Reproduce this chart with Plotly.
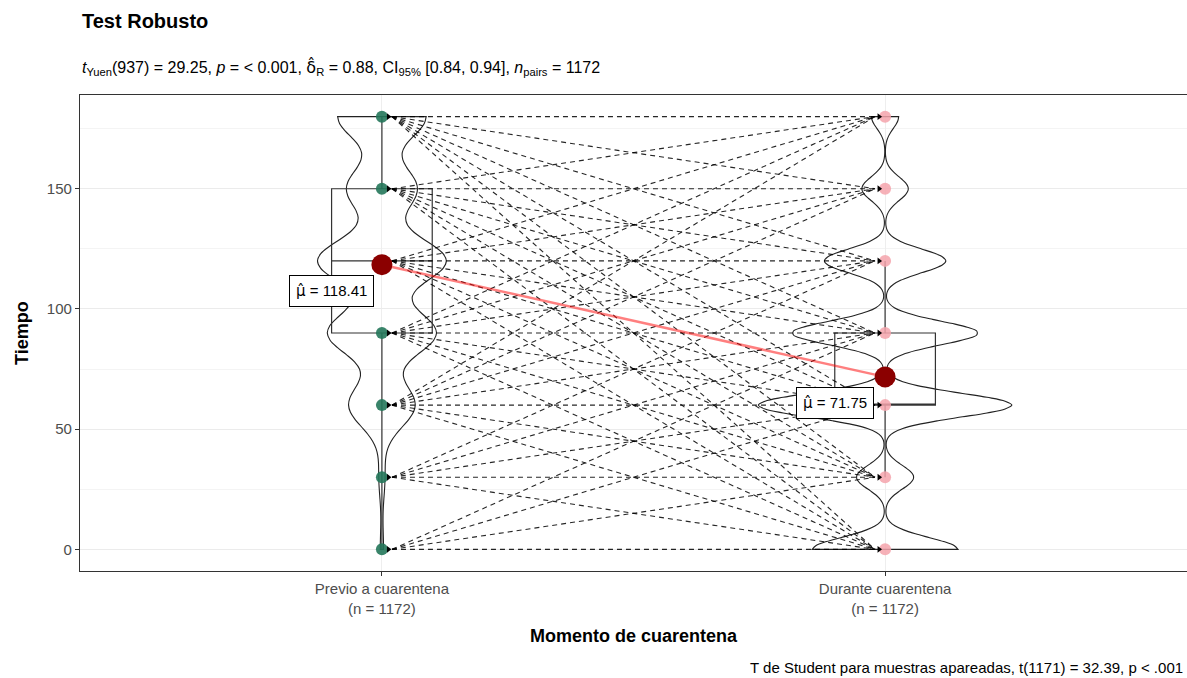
import numpy as np
import plotly.graph_objects as go

# ---------------- data ----------------
values = [0, 30, 60, 90, 120, 150, 180]
count_previo = [8, 15, 165, 270, 319, 175, 220]
count_durante = [204, 80, 355, 260, 170, 65, 38]
group_labels = ["Previo a cuarentena", "Durante cuarentena"]
y_ticks = [0, 50, 100, 150]

# observed pairs: value before quarantine -> values during quarantine
pair_targets = {
    0: [0, 30, 60, 90],
    30: [0, 30, 60, 90, 120],
    60: [0, 30, 60, 90, 120, 150, 180],
    90: [0, 30, 60, 90, 120, 150, 180],
    120: [0, 30, 60, 90, 120, 150, 180],
    150: [0, 30, 60, 90, 120, 150, 180],
    180: [0, 30, 60, 90, 120, 150, 180],
}

HAT_FONT = "font-family:'DejaVu Sans'"
title_text = "<b>Test Robusto</b>"
subtitle_text = ("<i>t</i><sub>Yuen</sub>(937) = 29.25, <i>p</i> = &lt; 0.001, "
                 f"<span style=\"{HAT_FONT}\">δ\u0302</span><sub>R</sub> = 0.88, "
                 "CI<sub>95%</sub> [0.84, 0.94], "
                 "<i>n</i><sub>pairs</sub> = 1172")
caption_text = "T de Student para muestras apareadas, t(1171) = 32.39, p &lt; .001"
x_title = "<b>Momento de cuarentena</b>"
y_title = "<b>Tiempo</b>"

# ---------------- derived ----------------
prev = np.repeat(values, count_previo).astype(float)
dur = np.repeat(values, count_durante).astype(float)
n_prev, n_dur = len(prev), len(dur)


def bw_nrd0(x):
    sd = np.std(x, ddof=1)
    iqr = np.percentile(x, 75) - np.percentile(x, 25)
    lo = min(sd, iqr / 1.34) if iqr > 0 else sd
    return 0.9 * lo * len(x) ** -0.2


bw_p, bw_d = bw_nrd0(prev), bw_nrd0(dur)
mean_p, mean_d = prev.mean(), dur.mean()

VIOLIN_W = {1: 0.256, 2: 0.504}

fig = go.Figure()

# boxplots
for xpos, data in [(1, prev), (2, dur)]:
    fig.add_trace(go.Box(
        x=np.full(len(data), xpos), y=data, width=0.2,
        fillcolor="rgba(0,0,0,0)", line=dict(color="#333333", width=1.2),
        boxpoints="outliers", marker=dict(size=0.1, opacity=0),
        whiskerwidth=0, hoverinfo="skip", showlegend=False))

# violins
for xpos, data, bw in [(1, prev, bw_p), (2, dur, bw_d)]:
    fig.add_trace(go.Violin(
        x=np.full(len(data), xpos), y=data, width=VIOLIN_W[xpos], bandwidth=bw,
        spanmode="hard", scalemode="width", scalegroup=f"g{xpos}",
        points=False, fillcolor="rgba(0,0,0,0)",
        line=dict(color="#222222", width=1.1), hoverinfo="skip",
        showlegend=False))

# paired dashed paths
px, py = [], []
for v1, targets in pair_targets.items():
    for v2 in targets:
        px += [1.02, 1.98, None]
        py += [v1, v2, None]
fig.add_trace(go.Scatter(x=px, y=py, mode="lines",
                         line=dict(color="rgba(0,0,0,0.85)", width=1.1, dash="5px,4px"),
                         hoverinfo="skip", showlegend=False))

# raw points
pv = [v for v, c in zip(values, count_previo) if c > 0]
dv = [v for v, c in zip(values, count_durante) if c > 0]
fig.add_trace(go.Scatter(x=[1] * len(pv), y=pv, mode="markers",
                         marker=dict(size=12, color="#24775a", opacity=0.9),
                         hoverinfo="skip", showlegend=False))
fig.add_trace(go.Scatter(x=[2] * len(dv), y=dv, mode="markers",
                         marker=dict(size=12, color="#f4a3ab", opacity=0.85),
                         hoverinfo="skip", showlegend=False))

# arrow heads at path ends
fig.add_trace(go.Scatter(x=[1.013] * len(pv) + [1.988] * len(dv), y=pv + dv, mode="markers",
                         marker=dict(size=6, color="black", symbol="triangle-right"),
                         hoverinfo="skip", showlegend=False))

# centrality path and points
fig.add_trace(go.Scatter(x=[1, 2], y=[mean_p, mean_d], mode="lines",
                         line=dict(color="rgba(255,0,0,0.5)", width=2.5),
                         hoverinfo="skip", showlegend=False))
fig.add_trace(go.Scatter(x=[1, 2], y=[mean_p, mean_d], mode="markers",
                         marker=dict(size=21, color="#8B0000"),
                         hoverinfo="skip", showlegend=False))

# mean labels
for xl, yl, m in [(0.899, 107.5, mean_p), (1.90, 60.8, mean_d)]:
    fig.add_annotation(x=xl, y=yl, xref="x", yref="y", showarrow=False,
                       text=f"<span style=\"{HAT_FONT}\">μ\u0302</span> = {m:.2f}",
                       font=dict(size=15, color="black"),
                       bgcolor="white", bordercolor="black", borderwidth=1, borderpad=6)

# titles
fig.add_annotation(x=0, y=1.1545, xref="paper", yref="paper", xanchor="left", yanchor="middle",
                   text=title_text, showarrow=False, font=dict(size=20, color="black"))
fig.add_annotation(x=0, y=1.058, xref="paper", yref="paper", xanchor="left", yanchor="middle",
                   text=subtitle_text, showarrow=False, font=dict(size=16, color="black"))
fig.add_annotation(x=1, y=-0.203, xref="paper", yref="paper", xanchor="right", yanchor="middle",
                   xshift=-2, text=caption_text, showarrow=False, font=dict(size=15, color="black"))
fig.add_annotation(x=0.5, y=-0.1376, xref="paper", yref="paper", xanchor="center", yanchor="middle",
                   text=x_title, showarrow=False, font=dict(size=18, color="black"))
fig.add_annotation(x=-0.0524, y=0.5, xref="paper", yref="paper", xanchor="center", yanchor="middle",
                   text=y_title, textangle=-90, showarrow=False, font=dict(size=18, color="black"))

fig.update_layout(
    width=1187, height=678,
    margin=dict(l=80, r=0, t=95, b=107),
    plot_bgcolor="white", paper_bgcolor="white",
    font=dict(family="Liberation Sans, Arial, sans-serif"),
    showlegend=False, boxmode="overlay", violinmode="overlay",
    xaxis=dict(range=[0.4, 2.6], tickvals=[1, 2],
               ticktext=[f"{g}<br>(n = {n})" for g, n in zip(group_labels, [n_prev, n_dur])],
               tickfont=dict(size=15, color="#4D4D4D"), showgrid=True, gridcolor="#EEEEEE",
               zeroline=False, ticks="outside", ticklen=4, tickcolor="#333333",
               showline=True, linecolor="#333333", linewidth=1.2, mirror=True),
    yaxis=dict(range=[-9, 189], tickvals=y_ticks, tickfont=dict(size=15, color="#4D4D4D"),
               showgrid=True, gridcolor="#EBEBEB", zeroline=False, ticks="outside", ticklen=4,
               tickcolor="#333333", showline=True, linecolor="#333333", linewidth=1.2, mirror=True,
               minor=dict(tickvals=[25, 75, 125, 175], showgrid=True, gridcolor="#F4F4F4")),
)

fig.write_html("out.html",
               config={"displayModeBar": False},
               post_script="document.body.style.margin='0';document.body.style.overflow='hidden';")
